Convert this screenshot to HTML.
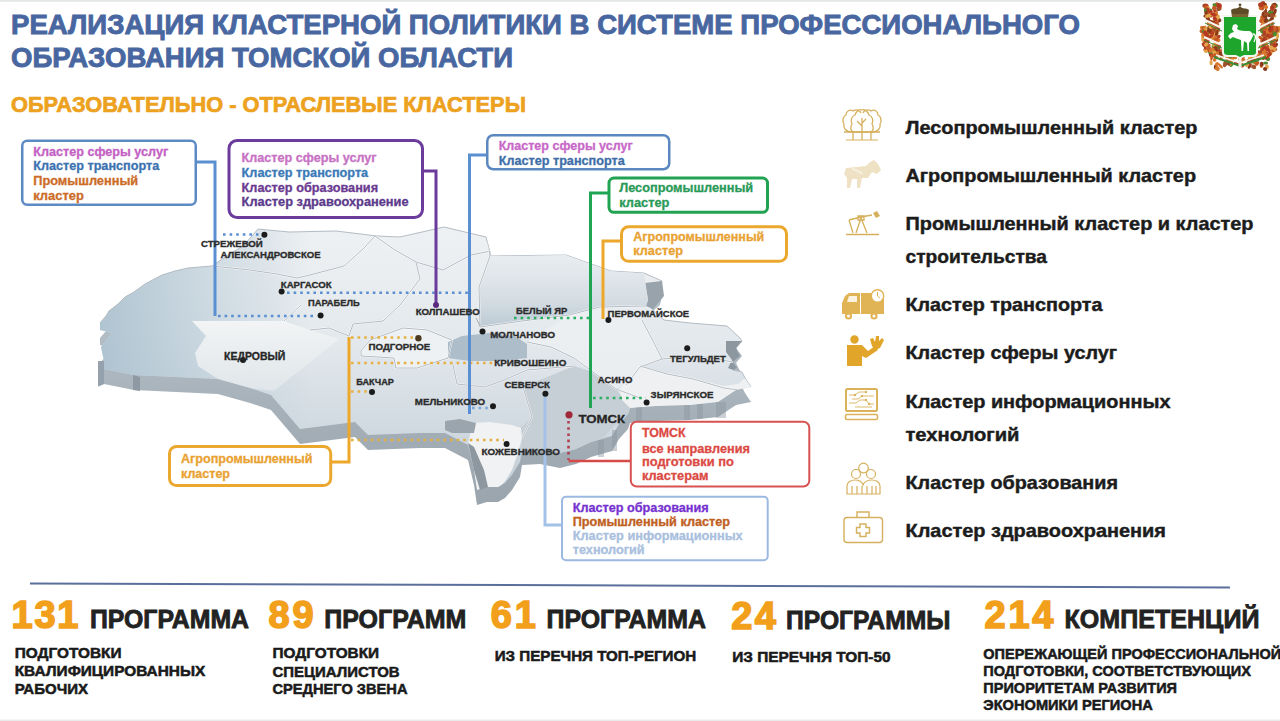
<!DOCTYPE html>
<html><head><meta charset="utf-8"><style>
html,body{margin:0;padding:0;background:#fff;width:1280px;height:721px;overflow:hidden}
svg{display:block;font-family:"Liberation Sans",sans-serif;font-weight:bold}
</style></head><body>
<svg width="1280" height="721" viewBox="0 0 1280 721">
<rect x="0" y="0" width="1280" height="721" fill="#ffffff"/>
<rect x="0" y="0" width="1280" height="1.8" fill="#e4e7e7"/>
<rect x="0" y="719.5" width="1280" height="1.5" fill="#e9ebeb"/>
<defs>
<linearGradient id="gTopV" gradientUnits="userSpaceOnUse" x1="0" y1="228" x2="0" y2="470"><stop offset="0" stop-color="#eef1f3"/><stop offset="0.45" stop-color="#e4e9ed"/><stop offset="0.8" stop-color="#d2dbe2"/><stop offset="1" stop-color="#c6d0d8"/></linearGradient>
<linearGradient id="gWest" gradientUnits="userSpaceOnUse" x1="95" y1="0" x2="310" y2="0"><stop offset="0" stop-color="#a4bccb" stop-opacity="0.85"/><stop offset="0.45" stop-color="#aac1cf" stop-opacity="0.5"/><stop offset="0.8" stop-color="#b4c8d4" stop-opacity="0.25"/><stop offset="1" stop-color="#b4c8d4" stop-opacity="0"/></linearGradient>
<linearGradient id="gSide" gradientUnits="userSpaceOnUse" x1="0" y1="330" x2="0" y2="520"><stop offset="0" stop-color="#b2bdc6"/><stop offset="0.5" stop-color="#a4aeb6"/><stop offset="1" stop-color="#99a3ab"/></linearGradient>
<linearGradient id="gKedr" gradientUnits="userSpaceOnUse" x1="0" y1="320" x2="0" y2="395"><stop offset="0" stop-color="#f2f4f5"/><stop offset="1" stop-color="#dfe5e9"/></linearGradient>
<clipPath id="cTop"><polygon points="100,323 106,316 109,311 118,304 125,297 134,292 145,284 162,275 175,271 188,268 212,266 228,255 243,246 252,236 258,229 289,232 336,231 377,236 400,237 444,227 486,237 491,256 566,255 611,271 644,273 662,281 660,290 648,300 651,308 664,320 690,323 727,326 740,338 742,341 736,348 740,356 733,362 737,368 733,370 742,372 745,378 751,387 736,390 718,402 690,405 657,406 630,408 628,414 619,424 612,436 591,442 576,449 560,453 540,449 522,450 520,462 512,475 505,483 498,487 487,487 477,490 474,470 468,445 445,433 420,433 368,435 355,422 300,429 271,395 250,388 218,379 134,375 104,369 98,372 104,361 101,347 112,333 100,330"/></clipPath>
</defs>
<polygon points="100,338 106,331 109,326 118,319 125,312 134,307 145,299 162,290 175,286 188,283 212,281 228,270 243,261 252,251 258,244 289,247 336,246 377,251 400,252 444,242 486,252 491,271 566,270 611,286 644,288 662,296 660,305 648,315 651,323 664,335 690,338 727,341 740,353 742,356 736,363 740,371 733,377 737,383 733,385 742,387 745,393 751,402 736,405 718,417 690,420 657,421 630,423 628,429 619,439 612,451 591,457 576,464 560,468 540,464 522,465 520,477 512,490 505,498 498,502 487,502 477,505 474,485 468,460 445,448 420,448 368,450 355,437 300,444 271,410 250,403 218,394 134,390 104,384 98,387 104,376 101,362 112,348 100,345" fill="url(#gSide)"/>
<polygon points="100,323 106,316 109,311 118,304 125,297 134,292 145,284 162,275 175,271 188,268 212,266 228,255 243,246 252,236 258,229 289,232 336,231 377,236 400,237 444,227 486,237 491,256 566,255 611,271 644,273 662,281 660,290 648,300 651,308 664,320 690,323 727,326 740,338 742,341 736,348 740,356 733,362 737,368 733,370 742,372 745,378 751,387 736,390 718,402 690,405 657,406 630,408 628,414 619,424 612,436 591,442 576,449 560,453 540,449 522,450 520,462 512,475 505,483 498,487 487,487 477,490 474,470 468,445 445,433 420,433 368,435 355,422 300,429 271,395 250,388 218,379 134,375 104,369 98,372 104,361 101,347 112,333 100,330" fill="url(#gTopV)"/>
<polygon points="100,323 106,316 109,311 118,304 125,297 134,292 145,284 162,275 175,271 188,268 212,266 228,255 243,246 252,236 258,229 289,232 336,231 377,236 400,237 444,227 486,237 491,256 566,255 611,271 644,273 662,281 660,290 648,300 651,308 664,320 690,323 727,326 740,338 742,341 736,348 740,356 733,362 737,368 733,370 742,372 745,378 751,387 736,390 718,402 690,405 657,406 630,408 628,414 619,424 612,436 591,442 576,449 560,453 540,449 522,450 520,462 512,475 505,483 498,487 487,487 477,490 474,470 468,445 445,433 420,433 368,435 355,422 300,429 271,395 250,388 218,379 134,375 104,369 98,372 104,361 101,347 112,333 100,330" fill="url(#gWest)"/>
<polyline points="100,323 106,316 109,311 118,304 125,297 134,292 145,284 162,275 175,271 188,268 212,266 228,255 243,246 252,236 258,229 289,232 336,231 377,236 400,237 444,227 486,237 491,256 566,255 611,271 644,273 662,281 660,290 648,300 651,308 664,320 690,323 727,326 740,338 742,341 736,348 740,356 733,362 737,368 733,370 742,372 745,378 751,387" fill="none" stroke="#b4bcc3" stroke-width="1"/>
<polygon points="133,375 140,377 140,391 133,390" fill="#8e99a3"/>
<polygon points="98,361 104,361 104,384 98,386" fill="#95a2ad"/>
<polygon points="645,283 662,281 664,296 653,309 646,306 648,300" fill="#98a3ac"/>
<polygon points="726,341 742,341 736,348 740,356 733,362 737,368 733,370 728,368 732,360 726,352" fill="#8d979f"/>
<rect x="636" y="407" width="6" height="16" fill="#8c979f" opacity="0.45"/>
<rect x="684" y="405" width="6" height="15" fill="#8c979f" opacity="0.45"/>
<rect x="697" y="404" width="6" height="15" fill="#8c979f" opacity="0.45"/>
<rect x="716" y="402" width="10" height="16" fill="#8c979f" opacity="0.45"/>
<rect x="598" y="440" width="6" height="17" fill="#8c979f" opacity="0.45"/>
<rect x="612" y="430" width="5" height="21" fill="#8c979f" opacity="0.45"/>
<g clip-path="url(#cTop)">
<linearGradient id="gBely" gradientUnits="userSpaceOnUse" x1="0" y1="256" x2="0" y2="327"><stop offset="0" stop-color="#e9edf0"/><stop offset="0.6" stop-color="#d6dee4"/><stop offset="1" stop-color="#bccad4"/></linearGradient>
<polygon points="491,256 566,255 611,271 644,273 648,300 646,306 600,307 569,315 522,321 480,327 479,287 490,256" fill="url(#gBely)"/>
<polygon points="527,342 551,347 574,358 593,372 616,389 622,385 640,366 662,359 653,341 642,320 600,307 569,315 527,342" fill="#edf0f2" opacity="0.8"/>
<polygon points="532,417 523,387 574,366 593,372 616,389 633,412 628,418 614,426 604,437 594,443 572,454 556,452 540,449 522,450 521,428" fill="#c6cfd6"/>
<polygon points="192,321 284,321 310,330 339,339 274,391 250,388 218,379 198,366 195,353 206,336" fill="url(#gKedr)"/>
<polygon points="361,351 370,340 403,328 427,330 452,340 448,358 417,368 396,368 394,358 361,356" fill="#eef1f3"/>
<polygon points="448,342 462,336 490,333 515,336 527,344 527,358 500,361 470,361 448,358" fill="#adbdca"/>
<polygon points="619,389 640,366 667,374 693,379 724,386 738,384 745,378 751,387 736,390 718,402 690,405 657,406 630,408 622,400" fill="#eef0f2"/>
<polygon points="473,423 490,422 512,425 521,428 522,438 518,453 512,470 506,480 500,487 487,487 477,490 473,463 468,443" fill="#f1f2f3"/>
</g>
<polygon points="445,421 460,419 476,423 474,433 452,433 445,430" fill="#9aa5ae"/>
<polygon points="468,443 474,447 484,470 488,487 480,490 474,470" fill="#8c979f"/>
<g clip-path="url(#cTop)">
<polyline points="212,266 250,270 277,274 297,278 310,275 344,266 364,248 375,236" fill="none" stroke="#ffffff" stroke-width="1.8" opacity="0.9"/>
<polyline points="212,266 250,270 277,274 297,278 310,275 344,266 364,248 375,236" fill="none" stroke="#a9b2ba" stroke-width="0.9"/>
<polyline points="375,236 395,250 416,262 443,270 471,255 491,251" fill="none" stroke="#ffffff" stroke-width="1.8" opacity="0.9"/>
<polyline points="375,236 395,250 416,262 443,270 471,255 491,251" fill="none" stroke="#a9b2ba" stroke-width="0.9"/>
<polyline points="416,262 420,279 400,305 383,321 353,324 349,336" fill="none" stroke="#ffffff" stroke-width="1.8" opacity="0.9"/>
<polyline points="416,262 420,279 400,305 383,321 353,324 349,336" fill="none" stroke="#a9b2ba" stroke-width="0.9"/>
<polyline points="301,305 284,321" fill="none" stroke="#ffffff" stroke-width="1.8" opacity="0.9"/>
<polyline points="301,305 284,321" fill="none" stroke="#a9b2ba" stroke-width="0.9"/>
<polyline points="488,240 490,256 479,287 480,327 476,318 481,326" fill="none" stroke="#ffffff" stroke-width="1.8" opacity="0.9"/>
<polyline points="488,240 490,256 479,287 480,327 476,318 481,326" fill="none" stroke="#a9b2ba" stroke-width="0.9"/>
<polyline points="480,327 522,321 569,315 600,307 646,306" fill="none" stroke="#ffffff" stroke-width="1.8" opacity="0.9"/>
<polyline points="480,327 522,321 569,315 600,307 646,306" fill="none" stroke="#a9b2ba" stroke-width="0.9"/>
<polyline points="527,342 551,347 574,358 593,372 616,389 640,398" fill="none" stroke="#ffffff" stroke-width="1.8" opacity="0.9"/>
<polyline points="527,342 551,347 574,358 593,372 616,389 640,398" fill="none" stroke="#a9b2ba" stroke-width="0.9"/>
<polyline points="642,320 653,341 662,359 640,367 626,385" fill="none" stroke="#ffffff" stroke-width="1.8" opacity="0.9"/>
<polyline points="642,320 653,341 662,359 640,367 626,385" fill="none" stroke="#a9b2ba" stroke-width="0.9"/>
<polyline points="453,365 457,384 485,387 504,380 527,370 574,366" fill="none" stroke="#ffffff" stroke-width="1.8" opacity="0.9"/>
<polyline points="453,365 457,384 485,387 504,380 527,370 574,366" fill="none" stroke="#a9b2ba" stroke-width="0.9"/>
<polyline points="523,387 532,417 522,438" fill="none" stroke="#ffffff" stroke-width="1.8" opacity="0.9"/>
<polyline points="523,387 532,417 522,438" fill="none" stroke="#a9b2ba" stroke-width="0.9"/>
<polyline points="361,351 370,340 403,328 427,330 452,340 448,358 417,368 396,368 394,358 361,356 361,351" fill="none" stroke="#ffffff" stroke-width="1.8" opacity="0.9"/>
<polyline points="361,351 370,340 403,328 427,330 452,340 448,358 417,368 396,368 394,358 361,356 361,351" fill="none" stroke="#a9b2ba" stroke-width="0.9"/>
<polyline points="310,330 329,328 349,336" fill="none" stroke="#ffffff" stroke-width="1.8" opacity="0.9"/>
<polyline points="310,330 329,328 349,336" fill="none" stroke="#a9b2ba" stroke-width="0.9"/>
<polyline points="640,366 667,374 693,379 724,388 738,390" fill="none" stroke="#ffffff" stroke-width="1.8" opacity="0.9"/>
<polyline points="640,366 667,374 693,379 724,388 738,390" fill="none" stroke="#a9b2ba" stroke-width="0.9"/>
<polyline points="662,359 700,356 733,362" fill="none" stroke="#ffffff" stroke-width="1.8" opacity="0.9"/>
<polyline points="662,359 700,356 733,362" fill="none" stroke="#a9b2ba" stroke-width="0.9"/>
</g><line x1="223" y1="234.5" x2="262" y2="234.5" stroke="#5a8fd2" stroke-width="2.6" stroke-dasharray="2.6 3.9999999999999996"/>
<line x1="287" y1="292.7" x2="468" y2="292.7" stroke="#5a8fd2" stroke-width="2.6" stroke-dasharray="2.6 3.9999999999999996"/>
<line x1="218" y1="316" x2="314" y2="316" stroke="#5a8fd2" stroke-width="2.6" stroke-dasharray="2.6 3.9999999999999996"/>
<line x1="472" y1="408" x2="490" y2="408" stroke="#7aa6dc" stroke-width="2.6" stroke-dasharray="2.6 3.9999999999999996"/>
<line x1="514" y1="318" x2="590" y2="318" stroke="#2ab060" stroke-width="2.6" stroke-dasharray="2.6 3.9999999999999996"/>
<line x1="593" y1="398" x2="646" y2="398" stroke="#2ab060" stroke-width="2.6" stroke-dasharray="2.6 3.9999999999999996"/>
<line x1="351" y1="337.5" x2="416" y2="337.5" stroke="#e8b040" stroke-width="2.6" stroke-dasharray="2.6 3.9999999999999996"/>
<line x1="351" y1="363" x2="493" y2="363" stroke="#e8b040" stroke-width="2.6" stroke-dasharray="2.6 3.9999999999999996"/>
<line x1="351" y1="391.5" x2="370" y2="391.5" stroke="#e8b040" stroke-width="2.6" stroke-dasharray="2.6 3.9999999999999996"/>
<line x1="351" y1="440" x2="504" y2="440" stroke="#e0b040" stroke-width="2.6" stroke-dasharray="2.6 3.9999999999999996"/>
<line x1="568.5" y1="421" x2="568.5" y2="460" stroke="#b04050" stroke-width="2.6" stroke-dasharray="2.6 3.6"/>
<polyline points="197,162 215,162 215,316" fill="none" stroke="#5a8fd2" stroke-width="3" stroke-linejoin="miter"/>
<polyline points="424,171 436,171 436,305" fill="none" stroke="#6a3a9c" stroke-width="3" stroke-linejoin="miter"/>
<polyline points="486,155 469.5,155 469.5,414" fill="none" stroke="#5a8fd2" stroke-width="3" stroke-linejoin="miter"/>
<polyline points="608,193 590.5,193 590.5,408" fill="none" stroke="#1fa554" stroke-width="3" stroke-linejoin="miter"/>
<polyline points="620,241 603,241 603,319" fill="none" stroke="#eda72a" stroke-width="3" stroke-linejoin="miter"/>
<polyline points="332,462 349,462 349,337" fill="none" stroke="#eda72a" stroke-width="3" stroke-linejoin="miter"/>
<polyline points="630,461 568.5,461" fill="none" stroke="#d64a4a" stroke-width="2.5" stroke-linejoin="miter"/>
<polyline points="561,525 545,525 545,394" fill="none" stroke="#a4c2e8" stroke-width="3" stroke-linejoin="miter"/>
<circle cx="264.4" cy="234.8" r="3" fill="#1b1b1b"/>
<circle cx="281.6" cy="291.5" r="3" fill="#1b1b1b"/>
<circle cx="320.6" cy="315.6" r="3" fill="#1b1b1b"/>
<circle cx="482.5" cy="331.5" r="3" fill="#1b1b1b"/>
<circle cx="608.4" cy="320" r="3" fill="#1b1b1b"/>
<circle cx="687.2" cy="348.3" r="3" fill="#1b1b1b"/>
<circle cx="646.6" cy="402.6" r="3" fill="#1b1b1b"/>
<circle cx="545.4" cy="393.8" r="3" fill="#1b1b1b"/>
<circle cx="493" cy="406.3" r="3" fill="#1b1b1b"/>
<circle cx="243" cy="360" r="3" fill="#1b1b1b"/>
<circle cx="506.6" cy="444" r="3" fill="#1b1b1b"/>
<circle cx="372" cy="391.9" r="3" fill="#1b1b1b"/>
<circle cx="418.4" cy="338.3" r="3.2" fill="#4a3a20"/>
<circle cx="436" cy="305" r="3" fill="#5a2a80"/>
<circle cx="569" cy="414.8" r="3.6" fill="#a02838"/>
<circle cx="195" cy="162" r="2.2" fill="#5a8fd2"/>
<circle cx="421" cy="171" r="2.2" fill="#6a3a9c"/>
<rect x="22.25" y="140.75" width="173.5" height="64.0" rx="5" fill="#ffffff" stroke="#5b8ac4" stroke-width="2.5"/>
<text x="33.2" y="155.8" font-size="12.5" textLength="135" lengthAdjust="spacingAndGlyphs" fill="#c462c4" stroke="#c462c4" stroke-width="0.3">Кластер сферы услуг</text>
<text x="33.2" y="170.4" font-size="12.5" textLength="126" lengthAdjust="spacingAndGlyphs" fill="#3c72b0" stroke="#3c72b0" stroke-width="0.3">Кластер транспорта</text>
<text x="33.2" y="184.7" font-size="12.5" textLength="105" lengthAdjust="spacingAndGlyphs" fill="#cc6c28" stroke="#cc6c28" stroke-width="0.3">Промышленный</text>
<text x="33.2" y="199.6" font-size="12.5" textLength="50.7" lengthAdjust="spacingAndGlyphs" fill="#cc6c28" stroke="#cc6c28" stroke-width="0.3">кластер</text>
<rect x="229.0" y="140.5" width="193.5" height="77" rx="8" fill="#ffffff" stroke="#6b3c9c" stroke-width="3"/>
<text x="241.6" y="162.3" font-size="12.5" textLength="135" lengthAdjust="spacingAndGlyphs" fill="#c872c4" stroke="#c872c4" stroke-width="0.3">Кластер сферы услуг</text>
<text x="241.6" y="176.7" font-size="12.5" textLength="126.6" lengthAdjust="spacingAndGlyphs" fill="#3a7ab8" stroke="#3a7ab8" stroke-width="0.3">Кластер транспорта</text>
<text x="241.6" y="192" font-size="12.5" textLength="136.5" lengthAdjust="spacingAndGlyphs" fill="#6a3a90" stroke="#6a3a90" stroke-width="0.3">Кластер образования</text>
<text x="241.6" y="205.5" font-size="12.5" textLength="167" lengthAdjust="spacingAndGlyphs" fill="#5c3a8c" stroke="#5c3a8c" stroke-width="0.3">Кластер здравоохранение</text>
<rect x="487.25" y="135.25" width="182.0" height="34.0" rx="6" fill="#ffffff" stroke="#5b88c0" stroke-width="2.5"/>
<text x="498.7" y="150" font-size="12.5" textLength="134" lengthAdjust="spacingAndGlyphs" fill="#c868c8" stroke="#c868c8" stroke-width="0.3">Кластер сферы услуг</text>
<text x="498.7" y="164.5" font-size="12.5" textLength="126" lengthAdjust="spacingAndGlyphs" fill="#3e6ea8" stroke="#3e6ea8" stroke-width="0.3">Кластер транспорта</text>
<rect x="609.0" y="178.0" width="158.5" height="34.30000000000001" rx="5" fill="#ffffff" stroke="#21a352" stroke-width="3"/>
<text x="619.2" y="192.3" font-size="12.5" textLength="134" lengthAdjust="spacingAndGlyphs" fill="#2a9a58" stroke="#2a9a58" stroke-width="0.3">Лесопромышленный</text>
<text x="619.2" y="207" font-size="12.5" textLength="50.2" lengthAdjust="spacingAndGlyphs" fill="#2a9a58" stroke="#2a9a58" stroke-width="0.3">кластер</text>
<rect x="621.5" y="226.8" width="165" height="34.5" rx="7" fill="#ffffff" stroke="#eba82e" stroke-width="3"/>
<text x="633.3" y="240.8" font-size="12.5" textLength="131" lengthAdjust="spacingAndGlyphs" fill="#e9a232" stroke="#e9a232" stroke-width="0.3">Агропромышленный</text>
<text x="633.3" y="255" font-size="12.5" textLength="49.7" lengthAdjust="spacingAndGlyphs" fill="#e9a232" stroke="#e9a232" stroke-width="0.3">кластер</text>
<rect x="169.5" y="446.5" width="161.2" height="39" rx="7" fill="#ffffff" stroke="#eba82e" stroke-width="3"/>
<text x="181" y="463" font-size="12.5" textLength="131.4" lengthAdjust="spacingAndGlyphs" fill="#e9a232" stroke="#e9a232" stroke-width="0.3">Агропромышленный</text>
<text x="181" y="478.4" font-size="12.5" textLength="49" lengthAdjust="spacingAndGlyphs" fill="#e9a232" stroke="#e9a232" stroke-width="0.3">кластер</text>
<rect x="630.8" y="421.8" width="178.5" height="64.69999999999999" rx="6" fill="#ffffff" stroke="#d85252" stroke-width="2"/>
<text x="641.9" y="437.2" font-size="12.5" textLength="43.7" lengthAdjust="spacingAndGlyphs" fill="#dc4a44" stroke="#dc4a44" stroke-width="0.3">ТОМСК</text>
<text x="641.9" y="452.5" font-size="12.5" textLength="108" lengthAdjust="spacingAndGlyphs" fill="#dc4a44" stroke="#dc4a44" stroke-width="0.3">все направления</text>
<text x="641.9" y="466" font-size="12.5" textLength="92" lengthAdjust="spacingAndGlyphs" fill="#dc4a44" stroke="#dc4a44" stroke-width="0.3">подготовки по</text>
<text x="641.9" y="480" font-size="12.5" textLength="66.7" lengthAdjust="spacingAndGlyphs" fill="#dc4a44" stroke="#dc4a44" stroke-width="0.3">кластерам</text>
<rect x="562.0" y="496.8" width="205.70000000000005" height="63.49999999999994" rx="4" fill="#ffffff" stroke="#9cb9e2" stroke-width="2"/>
<text x="572.7" y="511.5" font-size="12.5" textLength="136" lengthAdjust="spacingAndGlyphs" fill="#7632d0" stroke="#7632d0" stroke-width="0.3">Кластер образования</text>
<text x="572.7" y="525.7" font-size="12.5" textLength="157.4" lengthAdjust="spacingAndGlyphs" fill="#c0601e" stroke="#c0601e" stroke-width="0.3">Промышленный кластер</text>
<text x="572.7" y="540" font-size="12.5" textLength="170" lengthAdjust="spacingAndGlyphs" fill="#a9c0de" stroke="#a9c0de" stroke-width="0.3">Кластер информационных</text>
<text x="572.7" y="554" font-size="12.5" textLength="72" lengthAdjust="spacingAndGlyphs" fill="#a9c0de" stroke="#a9c0de" stroke-width="0.3">технологий</text>
<text x="201" y="247.3" font-size="8.6" textLength="61.8" lengthAdjust="spacingAndGlyphs" fill="#2b2b2b" stroke="#2b2b2b" stroke-width="0.3">СТРЕЖЕВОЙ</text>
<text x="220.6" y="257.5" font-size="8.6" textLength="100.0" lengthAdjust="spacingAndGlyphs" fill="#2b2b2b" stroke="#2b2b2b" stroke-width="0.3">АЛЕКСАНДРОВСКОЕ</text>
<text x="280.8" y="288" font-size="8.6" textLength="50.8" lengthAdjust="spacingAndGlyphs" fill="#2b2b2b" stroke="#2b2b2b" stroke-width="0.3">КАРГАСОК</text>
<text x="308" y="306" font-size="8.6" textLength="51.7" lengthAdjust="spacingAndGlyphs" fill="#2b2b2b" stroke="#2b2b2b" stroke-width="0.3">ПАРАБЕЛЬ</text>
<text x="415.7" y="314.9" font-size="8.6" textLength="64.1" lengthAdjust="spacingAndGlyphs" fill="#2b2b2b" stroke="#2b2b2b" stroke-width="0.3">КОЛПАШЕВО</text>
<text x="490.3" y="338" font-size="8.6" textLength="64.7" lengthAdjust="spacingAndGlyphs" fill="#2b2b2b" stroke="#2b2b2b" stroke-width="0.3">МОЛЧАНОВО</text>
<text x="516" y="314.2" font-size="8.6" textLength="51.3" lengthAdjust="spacingAndGlyphs" fill="#2b2b2b" stroke="#2b2b2b" stroke-width="0.3">БЕЛЫЙ ЯР</text>
<text x="607.6" y="317.3" font-size="8.6" textLength="81.6" lengthAdjust="spacingAndGlyphs" fill="#2b2b2b" stroke="#2b2b2b" stroke-width="0.3">ПЕРВОМАЙСКОЕ</text>
<text x="670" y="362" font-size="8.6" textLength="55.8" lengthAdjust="spacingAndGlyphs" fill="#2b2b2b" stroke="#2b2b2b" stroke-width="0.3">ТЕГУЛЬДЕТ</text>
<text x="597.8" y="383.3" font-size="8.6" textLength="34.5" lengthAdjust="spacingAndGlyphs" fill="#2b2b2b" stroke="#2b2b2b" stroke-width="0.3">АСИНО</text>
<text x="650.6" y="397.5" font-size="8.6" textLength="63.0" lengthAdjust="spacingAndGlyphs" fill="#2b2b2b" stroke="#2b2b2b" stroke-width="0.3">ЗЫРЯНСКОЕ</text>
<text x="504.4" y="387.7" font-size="8.6" textLength="45.6" lengthAdjust="spacingAndGlyphs" fill="#2b2b2b" stroke="#2b2b2b" stroke-width="0.3">СЕВЕРСК</text>
<text x="494.2" y="366.3" font-size="8.6" textLength="72.1" lengthAdjust="spacingAndGlyphs" fill="#2b2b2b" stroke="#2b2b2b" stroke-width="0.3">КРИВОШЕИНО</text>
<text x="368.5" y="350" font-size="8.6" textLength="61.7" lengthAdjust="spacingAndGlyphs" fill="#2b2b2b" stroke="#2b2b2b" stroke-width="0.3">ПОДГОРНОЕ</text>
<text x="356.2" y="385" font-size="8.6" textLength="37.8" lengthAdjust="spacingAndGlyphs" fill="#2b2b2b" stroke="#2b2b2b" stroke-width="0.3">БАКЧАР</text>
<text x="414.8" y="405" font-size="8.6" textLength="70.4" lengthAdjust="spacingAndGlyphs" fill="#2b2b2b" stroke="#2b2b2b" stroke-width="0.3">МЕЛЬНИКОВО</text>
<text x="481.6" y="455" font-size="8.6" textLength="78.4" lengthAdjust="spacingAndGlyphs" fill="#2b2b2b" stroke="#2b2b2b" stroke-width="0.3">КОЖЕВНИКОВО</text>
<text x="224" y="359.8" font-size="10.6" textLength="61.3" lengthAdjust="spacingAndGlyphs" fill="#262626" stroke="#262626" stroke-width="0.3">КЕДРОВЫЙ</text>
<text x="578.5" y="422.5" font-size="10.8" textLength="46.7" lengthAdjust="spacingAndGlyphs" fill="#262626" stroke="#262626" stroke-width="0.3">ТОМСК</text>
<g fill="none" stroke="#d5b05c" stroke-width="1.3" stroke-linejoin="round"><path d="M852,132 C846,132 843,128 844,124 C842,121 843,116 846,115 C846,111 850,109 853,111 C856,109 860,110 861,113"/><path d="M872,132 C878,132 881,128 880,124 C882,121 881,116 878,115 C878,111 874,109 871,111 C868,109 864,110 863,113"/><path d="M854,132 C850,131 850,127 852,124 C850,120 852,116 855,115 C856,111 860,109 862,110 C864,109 868,111 869,115 C872,116 874,120 872,124 C874,127 874,131 870,132 Z"/><path d="M844,132 L880,132"/><path d="M853,132 L853,140 M862,118 L862,140 M871,132 L871,140 M862,126 L857,121 M862,123 L866,119"/><path d="M846,140 L878,140" stroke-width="1"/></g><g fill="#efe2c4"><path d="M846,168 L866,166 L870,162 L874,160 L878,164 L881,170 L877,174 L872,172 L868,178 L862,178 L860,188 L857,188 L857,179 L852,179 L850,188 L847,188 L847,178 L844,174 Z"/></g><path d="M852,168 C856,172 860,170 862,174" stroke="#f6efe0" stroke-width="2" fill="none"/><g fill="none" stroke="#d5b05c" stroke-width="1.3"><path d="M846,234.5 L879,234.5" stroke-width="1.6"/><path d="M849,220 L861,217 L872,215 M849,220 L853,233 M861,218 L856,233 M861,218 L867,233 M858,216 L864,216 L864,220 L858,220 Z"/></g><path d="M873,213 L877,211 L880,216 L876,218 Z" fill="#d5b05c"/><g fill="#e0b354"><path d="M842,303 L845,296 L849,293 L860,293 L860,314 L842,314 Z"/><rect x="861" y="293" width="23" height="21"/><circle cx="848.5" cy="316" r="3.6"/><circle cx="874" cy="316" r="3.6"/></g><path d="M847,302 L849,296 L857,296 L857,302 Z" fill="#fbf3e0"/><circle cx="848.5" cy="316" r="1.5" fill="#fff"/><circle cx="874" cy="316" r="1.5" fill="#fff"/><circle cx="877.5" cy="296" r="6.2" fill="#fff" stroke="#e0b354" stroke-width="1.4"/><path d="M877.5,292 L877.5,296 L880,298" stroke="#e0b354" stroke-width="1" fill="none"/><g fill="#e1a52a"><circle cx="854.5" cy="339.5" r="4.2"/><path d="M847,345 L862,345 L868,351 L875,346 L878,350 L866,358 L862,356 L862,366 L847,366 Z"/><path d="M872,346 L870,339 L873,338 L875,342 L876,336 L879,336 L879,341 L882,338 L884,340 L880,348 L875,350 Z"/></g><g fill="none" stroke="#d9b25a"><rect x="846" y="389" width="31" height="22" rx="1.5" stroke-width="2"/><rect x="845.5" y="414.5" width="32" height="5" rx="1.5" stroke-width="1.6"/><path d="M849,395 L855,395 L859,392 L866,392 M852,399 L858,399 L862,396 L874,396 M849,403 L856,403 L860,400 L866,400 L869,404 L874,404 M855,407 L872,407" stroke-width="0.9"/></g><g fill="#d9b25a"><circle cx="855" cy="395" r="1.2"/><circle cx="862" cy="396" r="1.2"/><circle cx="866" cy="400" r="1.2"/><circle cx="869" cy="404" r="1.2"/><circle cx="866" cy="392" r="1.2"/></g><g fill="none" stroke="#d5b05c" stroke-width="1.2"><circle cx="856" cy="474" r="4.5"/><circle cx="871" cy="474" r="4.5"/><circle cx="863.5" cy="468" r="4.8"/><path d="M847,494 L847,486 C847,482 851,480 855,480 C859,480 862,482 863,485 C864,482 868,480 872,480 C876,480 880,482 880,486 L880,494 Z"/><path d="M852,486 L852,494 M857,486 L857,494 M862,486 L862,494 M867,486 L867,494 M872,486 L872,494 M876,486 L876,494"/></g><g fill="none" stroke="#d5b05c" stroke-width="1.4"><rect x="844" y="517.5" width="38.5" height="25" rx="3"/><path d="M857,517.5 L857,512 L869,512 L869,517.5"/><path d="M860,524 L866,524 L866,527.5 L869.5,527.5 L869.5,533 L866,533 L866,536.5 L860,536.5 L860,533 L856.5,533 L856.5,527.5 L860,527.5 Z"/></g><ellipse cx="1211.2" cy="27.5" rx="2.7" ry="1.9" transform="rotate(106 1211.2 27.5)" fill="#a0522a"/><ellipse cx="1268.2" cy="27.6" rx="2.7" ry="1.9" transform="rotate(74 1268.2 27.6)" fill="#e3a54a"/><ellipse cx="1205.1" cy="45.2" rx="2.1" ry="2.2" transform="rotate(125 1205.1 45.2)" fill="#b43a22"/><ellipse cx="1273.9" cy="46.7" rx="2.1" ry="2.2" transform="rotate(55 1273.9 46.7)" fill="#a0522a"/><ellipse cx="1212.4" cy="38.0" rx="2.0" ry="1.9" transform="rotate(11 1212.4 38.0)" fill="#b43a22"/><ellipse cx="1267.0" cy="37.2" rx="2.0" ry="1.9" transform="rotate(169 1267.0 37.2)" fill="#8a3a1a"/><ellipse cx="1209.3" cy="28.1" rx="2.8" ry="2.0" transform="rotate(90 1209.3 28.1)" fill="#c55a26"/><ellipse cx="1271.0" cy="28.0" rx="2.8" ry="2.0" transform="rotate(90 1271.0 28.0)" fill="#b43a22"/><ellipse cx="1220.9" cy="55.9" rx="3.1" ry="1.7" transform="rotate(41 1220.9 55.9)" fill="#c55a26"/><ellipse cx="1258.7" cy="54.6" rx="3.1" ry="1.7" transform="rotate(139 1258.7 54.6)" fill="#c55a26"/><ellipse cx="1215.8" cy="24.8" rx="3.5" ry="2.2" transform="rotate(0 1215.8 24.8)" fill="#d8782e"/><ellipse cx="1263.7" cy="26.1" rx="3.5" ry="2.2" transform="rotate(180 1263.7 26.1)" fill="#d8782e"/><ellipse cx="1211.5" cy="55.0" rx="3.0" ry="2.2" transform="rotate(49 1211.5 55.0)" fill="#8a3a1a"/><ellipse cx="1267.7" cy="54.5" rx="3.0" ry="2.2" transform="rotate(131 1267.7 54.5)" fill="#a0522a"/><ellipse cx="1205.3" cy="43.4" rx="2.2" ry="1.5" transform="rotate(143 1205.3 43.4)" fill="#b43a22"/><ellipse cx="1274.1" cy="43.6" rx="2.2" ry="1.5" transform="rotate(37 1274.1 43.6)" fill="#d8782e"/><ellipse cx="1215.2" cy="13.9" rx="3.0" ry="1.5" transform="rotate(76 1215.2 13.9)" fill="#8a3a1a"/><ellipse cx="1264.3" cy="13.2" rx="3.0" ry="1.5" transform="rotate(104 1264.3 13.2)" fill="#a0522a"/><ellipse cx="1208.5" cy="45.8" rx="2.3" ry="1.8" transform="rotate(154 1208.5 45.8)" fill="#c55a26"/><ellipse cx="1271.8" cy="44.6" rx="2.3" ry="1.8" transform="rotate(26 1271.8 44.6)" fill="#a0522a"/><ellipse cx="1207.6" cy="15.1" rx="2.5" ry="1.7" transform="rotate(13 1207.6 15.1)" fill="#c55a26"/><ellipse cx="1271.5" cy="15.3" rx="2.5" ry="1.7" transform="rotate(167 1271.5 15.3)" fill="#b43a22"/><ellipse cx="1208.4" cy="35.3" rx="3.5" ry="1.9" transform="rotate(103 1208.4 35.3)" fill="#d8782e"/><ellipse cx="1272.3" cy="34.3" rx="3.5" ry="1.9" transform="rotate(77 1272.3 34.3)" fill="#8a3a1a"/><ellipse cx="1217.3" cy="51.2" rx="2.3" ry="2.1" transform="rotate(169 1217.3 51.2)" fill="#b43a22"/><ellipse cx="1262.1" cy="52.6" rx="2.3" ry="2.1" transform="rotate(11 1262.1 52.6)" fill="#c55a26"/><ellipse cx="1209.2" cy="35.4" rx="2.1" ry="2.4" transform="rotate(43 1209.2 35.4)" fill="#8a3a1a"/><ellipse cx="1271.2" cy="34.7" rx="2.1" ry="2.4" transform="rotate(137 1271.2 34.7)" fill="#c55a26"/><ellipse cx="1207.2" cy="35.0" rx="3.2" ry="1.5" transform="rotate(41 1207.2 35.0)" fill="#b43a22"/><ellipse cx="1272.9" cy="36.1" rx="3.2" ry="1.5" transform="rotate(139 1272.9 36.1)" fill="#e3a54a"/><ellipse cx="1217.4" cy="18.6" rx="2.0" ry="1.7" transform="rotate(80 1217.4 18.6)" fill="#b43a22"/><ellipse cx="1261.7" cy="17.6" rx="2.0" ry="1.7" transform="rotate(100 1261.7 17.6)" fill="#d8782e"/><ellipse cx="1204.6" cy="33.8" rx="3.4" ry="2.4" transform="rotate(118 1204.6 33.8)" fill="#d8782e"/><ellipse cx="1275.8" cy="34.0" rx="3.4" ry="2.4" transform="rotate(62 1275.8 34.0)" fill="#8a3a1a"/><ellipse cx="1205.4" cy="5.8" rx="3.1" ry="2.4" transform="rotate(4 1205.4 5.8)" fill="#a0522a"/><ellipse cx="1274.8" cy="5.8" rx="3.1" ry="2.4" transform="rotate(176 1274.8 5.8)" fill="#4f8a30"/><ellipse cx="1218.5" cy="20.6" rx="2.9" ry="2.1" transform="rotate(162 1218.5 20.6)" fill="#8a3a1a"/><ellipse cx="1262.0" cy="21.2" rx="2.9" ry="2.1" transform="rotate(18 1262.0 21.2)" fill="#c55a26"/><ellipse cx="1210.2" cy="51.6" rx="3.4" ry="2.3" transform="rotate(75 1210.2 51.6)" fill="#4f8a30"/><ellipse cx="1270.4" cy="52.7" rx="3.4" ry="2.3" transform="rotate(105 1270.4 52.7)" fill="#e3a54a"/><ellipse cx="1208.7" cy="36.5" rx="3.0" ry="1.5" transform="rotate(115 1208.7 36.5)" fill="#e3a54a"/><ellipse cx="1272.3" cy="37.6" rx="3.0" ry="1.5" transform="rotate(65 1272.3 37.6)" fill="#4f8a30"/><ellipse cx="1214.1" cy="24.2" rx="2.7" ry="2.2" transform="rotate(15 1214.1 24.2)" fill="#e3a54a"/><ellipse cx="1266.4" cy="22.8" rx="2.7" ry="2.2" transform="rotate(165 1266.4 22.8)" fill="#e3a54a"/><ellipse cx="1206.1" cy="29.0" rx="2.8" ry="2.0" transform="rotate(166 1206.1 29.0)" fill="#4f8a30"/><ellipse cx="1273.4" cy="27.5" rx="2.8" ry="2.0" transform="rotate(14 1273.4 27.5)" fill="#b43a22"/><ellipse cx="1206.1" cy="39.3" rx="3.4" ry="2.1" transform="rotate(80 1206.1 39.3)" fill="#b43a22"/><ellipse cx="1274.7" cy="38.7" rx="3.4" ry="2.1" transform="rotate(100 1274.7 38.7)" fill="#e3a54a"/><ellipse cx="1210.4" cy="14.3" rx="3.5" ry="2.3" transform="rotate(69 1210.4 14.3)" fill="#c55a26"/><ellipse cx="1269.7" cy="13.8" rx="3.5" ry="2.3" transform="rotate(111 1269.7 13.8)" fill="#8a3a1a"/><ellipse cx="1215.5" cy="29.8" rx="3.1" ry="2.4" transform="rotate(50 1215.5 29.8)" fill="#c55a26"/><ellipse cx="1263.9" cy="29.7" rx="3.1" ry="2.4" transform="rotate(130 1263.9 29.7)" fill="#b43a22"/><ellipse cx="1210.0" cy="15.1" rx="2.8" ry="1.7" transform="rotate(151 1210.0 15.1)" fill="#e3a54a"/><ellipse cx="1270.9" cy="15.0" rx="2.8" ry="1.7" transform="rotate(29 1270.9 15.0)" fill="#8a3a1a"/><ellipse cx="1218.7" cy="5.6" rx="3.1" ry="2.0" transform="rotate(56 1218.7 5.6)" fill="#8a3a1a"/><ellipse cx="1261.9" cy="4.2" rx="3.1" ry="2.0" transform="rotate(124 1261.9 4.2)" fill="#8a3a1a"/><ellipse cx="1202.9" cy="27.7" rx="2.4" ry="1.5" transform="rotate(8 1202.9 27.7)" fill="#c55a26"/><ellipse cx="1277.3" cy="27.5" rx="2.4" ry="1.5" transform="rotate(172 1277.3 27.5)" fill="#e3a54a"/><ellipse cx="1215.4" cy="38.1" rx="3.1" ry="1.6" transform="rotate(86 1215.4 38.1)" fill="#a0522a"/><ellipse cx="1264.0" cy="36.6" rx="3.1" ry="1.6" transform="rotate(94 1264.0 36.6)" fill="#d8782e"/><ellipse cx="1205.9" cy="41.1" rx="2.6" ry="2.1" transform="rotate(94 1205.9 41.1)" fill="#b43a22"/><ellipse cx="1274.3" cy="41.9" rx="2.6" ry="2.1" transform="rotate(86 1274.3 41.9)" fill="#d8782e"/><ellipse cx="1217.7" cy="45.2" rx="3.5" ry="2.1" transform="rotate(23 1217.7 45.2)" fill="#8a3a1a"/><ellipse cx="1262.2" cy="45.6" rx="3.5" ry="2.1" transform="rotate(157 1262.2 45.6)" fill="#a0522a"/><ellipse cx="1211.5" cy="23.6" rx="3.3" ry="2.3" transform="rotate(83 1211.5 23.6)" fill="#c55a26"/><ellipse cx="1268.8" cy="22.7" rx="3.3" ry="2.3" transform="rotate(97 1268.8 22.7)" fill="#4f8a30"/><ellipse cx="1213.8" cy="46.6" rx="2.3" ry="2.3" transform="rotate(176 1213.8 46.6)" fill="#4f8a30"/><ellipse cx="1267.1" cy="46.7" rx="2.3" ry="2.3" transform="rotate(4 1267.1 46.7)" fill="#c55a26"/><ellipse cx="1217.1" cy="20.7" rx="2.6" ry="1.5" transform="rotate(79 1217.1 20.7)" fill="#c55a26"/><ellipse cx="1263.0" cy="21.5" rx="2.6" ry="1.5" transform="rotate(101 1263.0 21.5)" fill="#d8782e"/><ellipse cx="1217.8" cy="5.5" rx="3.3" ry="1.6" transform="rotate(60 1217.8 5.5)" fill="#8a3a1a"/><ellipse cx="1262.8" cy="4.4" rx="3.3" ry="1.6" transform="rotate(120 1262.8 4.4)" fill="#8a3a1a"/><ellipse cx="1213.7" cy="30.9" rx="3.1" ry="2.3" transform="rotate(89 1213.7 30.9)" fill="#c55a26"/><ellipse cx="1267.2" cy="29.6" rx="3.1" ry="2.3" transform="rotate(91 1267.2 29.6)" fill="#b43a22"/><ellipse cx="1207.0" cy="31.4" rx="3.0" ry="1.9" transform="rotate(152 1207.0 31.4)" fill="#4f8a30"/><ellipse cx="1273.1" cy="30.8" rx="3.0" ry="1.9" transform="rotate(28 1273.1 30.8)" fill="#d8782e"/><ellipse cx="1218.1" cy="48.0" rx="3.4" ry="2.4" transform="rotate(94 1218.1 48.0)" fill="#b43a22"/><ellipse cx="1262.1" cy="47.1" rx="3.4" ry="2.4" transform="rotate(86 1262.1 47.1)" fill="#e3a54a"/><ellipse cx="1211.9" cy="30.2" rx="3.6" ry="1.9" transform="rotate(72 1211.9 30.2)" fill="#8a3a1a"/><ellipse cx="1268.7" cy="30.4" rx="3.6" ry="1.9" transform="rotate(108 1268.7 30.4)" fill="#d8782e"/><ellipse cx="1204.0" cy="39.9" rx="2.7" ry="2.4" transform="rotate(166 1204.0 39.9)" fill="#e3a54a"/><ellipse cx="1275.5" cy="39.9" rx="2.7" ry="2.4" transform="rotate(14 1275.5 39.9)" fill="#8a3a1a"/><ellipse cx="1215.2" cy="26.6" rx="2.8" ry="1.7" transform="rotate(34 1215.2 26.6)" fill="#a0522a"/><ellipse cx="1265.0" cy="27.8" rx="2.8" ry="1.7" transform="rotate(146 1265.0 27.8)" fill="#8a3a1a"/><ellipse cx="1203.9" cy="44.5" rx="2.4" ry="2.1" transform="rotate(58 1203.9 44.5)" fill="#b43a22"/><ellipse cx="1275.8" cy="44.9" rx="2.4" ry="2.1" transform="rotate(122 1275.8 44.9)" fill="#8a3a1a"/><ellipse cx="1205.2" cy="42.0" rx="2.4" ry="1.6" transform="rotate(95 1205.2 42.0)" fill="#d8782e"/><ellipse cx="1274.7" cy="41.6" rx="2.4" ry="1.6" transform="rotate(85 1274.7 41.6)" fill="#d8782e"/><ellipse cx="1205.0" cy="31.5" rx="3.0" ry="2.0" transform="rotate(95 1205.0 31.5)" fill="#b43a22"/><ellipse cx="1275.7" cy="31.9" rx="3.0" ry="2.0" transform="rotate(85 1275.7 31.9)" fill="#c55a26"/><ellipse cx="1215.0" cy="16.1" rx="3.4" ry="1.7" transform="rotate(57 1215.0 16.1)" fill="#c55a26"/><ellipse cx="1265.9" cy="15.3" rx="3.4" ry="1.7" transform="rotate(123 1265.9 15.3)" fill="#a0522a"/><ellipse cx="1206.5" cy="50.2" rx="3.2" ry="1.7" transform="rotate(17 1206.5 50.2)" fill="#b43a22"/><ellipse cx="1274.1" cy="49.9" rx="3.2" ry="1.7" transform="rotate(163 1274.1 49.9)" fill="#c55a26"/><ellipse cx="1210.6" cy="10.6" rx="2.0" ry="1.6" transform="rotate(123 1210.6 10.6)" fill="#4f8a30"/><ellipse cx="1270.2" cy="12.0" rx="2.0" ry="1.6" transform="rotate(57 1270.2 12.0)" fill="#8a3a1a"/><ellipse cx="1214.3" cy="30.3" rx="3.1" ry="1.6" transform="rotate(13 1214.3 30.3)" fill="#d8782e"/><ellipse cx="1265.0" cy="28.9" rx="3.1" ry="1.6" transform="rotate(167 1265.0 28.9)" fill="#e3a54a"/><ellipse cx="1211.3" cy="30.8" rx="2.3" ry="1.6" transform="rotate(151 1211.3 30.8)" fill="#8a3a1a"/><ellipse cx="1269.7" cy="32.1" rx="2.3" ry="1.6" transform="rotate(29 1269.7 32.1)" fill="#8a3a1a"/><ellipse cx="1219.7" cy="7.2" rx="3.2" ry="1.7" transform="rotate(84 1219.7 7.2)" fill="#d8782e"/><ellipse cx="1260.4" cy="7.0" rx="3.2" ry="1.7" transform="rotate(96 1260.4 7.0)" fill="#e3a54a"/><ellipse cx="1216.2" cy="4.7" rx="2.3" ry="1.9" transform="rotate(133 1216.2 4.7)" fill="#c55a26"/><ellipse cx="1263.6" cy="3.8" rx="2.3" ry="1.9" transform="rotate(47 1263.6 3.8)" fill="#b43a22"/><ellipse cx="1202.7" cy="30.7" rx="3.3" ry="2.1" transform="rotate(155 1202.7 30.7)" fill="#c55a26"/><ellipse cx="1277.5" cy="30.4" rx="3.3" ry="2.1" transform="rotate(25 1277.5 30.4)" fill="#e3a54a"/><ellipse cx="1217.7" cy="30.2" rx="2.4" ry="2.3" transform="rotate(134 1217.7 30.2)" fill="#c55a26"/><ellipse cx="1262.8" cy="31.2" rx="2.4" ry="2.3" transform="rotate(46 1262.8 31.2)" fill="#d8782e"/><ellipse cx="1218.2" cy="50.6" rx="3.2" ry="2.2" transform="rotate(73 1218.2 50.6)" fill="#4f8a30"/><ellipse cx="1262.3" cy="49.3" rx="3.2" ry="2.2" transform="rotate(107 1262.3 49.3)" fill="#d8782e"/><ellipse cx="1202.7" cy="28.4" rx="3.0" ry="2.0" transform="rotate(42 1202.7 28.4)" fill="#d8782e"/><ellipse cx="1278.2" cy="28.9" rx="3.0" ry="2.0" transform="rotate(138 1278.2 28.9)" fill="#d8782e"/><ellipse cx="1211.7" cy="38.3" rx="2.6" ry="2.4" transform="rotate(116 1211.7 38.3)" fill="#e3a54a"/><ellipse cx="1268.7" cy="39.1" rx="2.6" ry="2.4" transform="rotate(64 1268.7 39.1)" fill="#a0522a"/><ellipse cx="1214.8" cy="5.2" rx="2.4" ry="1.8" transform="rotate(9 1214.8 5.2)" fill="#4f8a30"/><ellipse cx="1264.6" cy="4.8" rx="2.4" ry="1.8" transform="rotate(171 1264.6 4.8)" fill="#8a3a1a"/><ellipse cx="1217.4" cy="17.0" rx="2.8" ry="2.4" transform="rotate(102 1217.4 17.0)" fill="#e3a54a"/><ellipse cx="1263.6" cy="17.5" rx="2.8" ry="2.4" transform="rotate(78 1263.6 17.5)" fill="#c55a26"/><ellipse cx="1214.1" cy="8.0" rx="2.1" ry="2.3" transform="rotate(29 1214.1 8.0)" fill="#c55a26"/><ellipse cx="1265.9" cy="7.0" rx="2.1" ry="2.3" transform="rotate(151 1265.9 7.0)" fill="#d8782e"/><ellipse cx="1203.6" cy="35.8" rx="2.7" ry="1.9" transform="rotate(108 1203.6 35.8)" fill="#a0522a"/><ellipse cx="1276.1" cy="35.1" rx="2.7" ry="1.9" transform="rotate(72 1276.1 35.1)" fill="#e3a54a"/><ellipse cx="1206.9" cy="33.2" rx="2.5" ry="1.4" transform="rotate(44 1206.9 33.2)" fill="#4f8a30"/><ellipse cx="1272.1" cy="32.1" rx="2.5" ry="1.4" transform="rotate(136 1272.1 32.1)" fill="#c55a26"/><ellipse cx="1216.6" cy="24.3" rx="2.1" ry="2.4" transform="rotate(170 1216.6 24.3)" fill="#c55a26"/><ellipse cx="1262.6" cy="25.5" rx="2.1" ry="2.4" transform="rotate(10 1262.6 25.5)" fill="#d8782e"/><ellipse cx="1217.6" cy="28.8" rx="2.8" ry="2.3" transform="rotate(130 1217.6 28.8)" fill="#b43a22"/><ellipse cx="1262.3" cy="30.3" rx="2.8" ry="2.3" transform="rotate(50 1262.3 30.3)" fill="#c55a26"/><ellipse cx="1204.4" cy="35.4" rx="2.7" ry="1.6" transform="rotate(9 1204.4 35.4)" fill="#e3a54a"/><ellipse cx="1275.6" cy="34.3" rx="2.7" ry="1.6" transform="rotate(171 1275.6 34.3)" fill="#d8782e"/><ellipse cx="1210.0" cy="38.7" rx="2.9" ry="1.8" transform="rotate(140 1210.0 38.7)" fill="#b43a22"/><ellipse cx="1270.1" cy="40.2" rx="2.9" ry="1.8" transform="rotate(40 1270.1 40.2)" fill="#a0522a"/><ellipse cx="1207.0" cy="42.2" rx="3.4" ry="2.2" transform="rotate(112 1207.0 42.2)" fill="#8a3a1a"/><ellipse cx="1272.7" cy="41.5" rx="3.4" ry="2.2" transform="rotate(68 1272.7 41.5)" fill="#4f8a30"/><ellipse cx="1211.7" cy="33.4" rx="3.2" ry="1.6" transform="rotate(45 1211.7 33.4)" fill="#e3a54a"/><ellipse cx="1269.2" cy="34.6" rx="3.2" ry="1.6" transform="rotate(135 1269.2 34.6)" fill="#c55a26"/><ellipse cx="1206.1" cy="6.1" rx="2.7" ry="2.0" transform="rotate(18 1206.1 6.1)" fill="#b43a22"/><ellipse cx="1274.0" cy="4.8" rx="2.7" ry="2.0" transform="rotate(162 1274.0 4.8)" fill="#8a3a1a"/><ellipse cx="1211.5" cy="39.2" rx="2.6" ry="1.9" transform="rotate(38 1211.5 39.2)" fill="#e3a54a"/><ellipse cx="1268.2" cy="39.9" rx="2.6" ry="1.9" transform="rotate(142 1268.2 39.9)" fill="#c55a26"/><ellipse cx="1206.7" cy="7.9" rx="3.0" ry="2.2" transform="rotate(38 1206.7 7.9)" fill="#c55a26"/><ellipse cx="1273.2" cy="7.1" rx="3.0" ry="2.2" transform="rotate(142 1273.2 7.1)" fill="#c55a26"/><ellipse cx="1212.9" cy="23.2" rx="2.5" ry="1.9" transform="rotate(134 1212.9 23.2)" fill="#a0522a"/><ellipse cx="1268.0" cy="23.0" rx="2.5" ry="1.9" transform="rotate(46 1268.0 23.0)" fill="#d8782e"/><ellipse cx="1218.2" cy="9.0" rx="2.1" ry="2.0" transform="rotate(87 1218.2 9.0)" fill="#8a3a1a"/><ellipse cx="1262.2" cy="8.4" rx="2.1" ry="2.0" transform="rotate(93 1262.2 8.4)" fill="#c55a26"/><ellipse cx="1208.1" cy="8.0" rx="2.1" ry="1.7" transform="rotate(130 1208.1 8.0)" fill="#e3a54a"/><ellipse cx="1272.3" cy="7.3" rx="2.1" ry="1.7" transform="rotate(50 1272.3 7.3)" fill="#8a3a1a"/><ellipse cx="1214.0" cy="22.6" rx="2.2" ry="2.1" transform="rotate(102 1214.0 22.6)" fill="#d8782e"/><ellipse cx="1266.8" cy="23.9" rx="2.2" ry="2.1" transform="rotate(78 1266.8 23.9)" fill="#a0522a"/><ellipse cx="1215.0" cy="26.8" rx="2.5" ry="1.8" transform="rotate(168 1215.0 26.8)" fill="#b43a22"/><ellipse cx="1265.8" cy="26.0" rx="2.5" ry="1.8" transform="rotate(12 1265.8 26.0)" fill="#d8782e"/><ellipse cx="1208.4" cy="23.0" rx="2.6" ry="1.6" transform="rotate(101 1208.4 23.0)" fill="#d8782e"/><ellipse cx="1272.2" cy="23.1" rx="2.6" ry="1.6" transform="rotate(79 1272.2 23.1)" fill="#c55a26"/><ellipse cx="1205.3" cy="33.3" rx="3.4" ry="1.7" transform="rotate(4 1205.3 33.3)" fill="#c55a26"/><ellipse cx="1274.7" cy="33.4" rx="3.4" ry="1.7" transform="rotate(176 1274.7 33.4)" fill="#e3a54a"/><ellipse cx="1215.3" cy="54.3" rx="2.1" ry="1.9" transform="rotate(142 1215.3 54.3)" fill="#c55a26"/><ellipse cx="1263.9" cy="53.0" rx="2.1" ry="1.9" transform="rotate(38 1263.9 53.0)" fill="#4f8a30"/><ellipse cx="1205.9" cy="50.8" rx="2.2" ry="2.1" transform="rotate(117 1205.9 50.8)" fill="#e3a54a"/><ellipse cx="1273.6" cy="49.9" rx="2.2" ry="2.1" transform="rotate(63 1273.6 49.9)" fill="#c55a26"/><ellipse cx="1214.4" cy="31.1" rx="2.5" ry="2.4" transform="rotate(121 1214.4 31.1)" fill="#d8782e"/><ellipse cx="1265.6" cy="31.2" rx="2.5" ry="2.4" transform="rotate(59 1265.6 31.2)" fill="#4f8a30"/><ellipse cx="1217.3" cy="40.8" rx="3.3" ry="2.1" transform="rotate(154 1217.3 40.8)" fill="#d8782e"/><ellipse cx="1263.3" cy="41.8" rx="3.3" ry="2.1" transform="rotate(26 1263.3 41.8)" fill="#c55a26"/><ellipse cx="1215.0" cy="53.8" rx="3.1" ry="2.2" transform="rotate(76 1215.0 53.8)" fill="#e3a54a"/><ellipse cx="1264.8" cy="52.7" rx="3.1" ry="2.2" transform="rotate(104 1264.8 52.7)" fill="#c55a26"/><ellipse cx="1211.2" cy="55.5" rx="2.3" ry="1.8" transform="rotate(53 1211.2 55.5)" fill="#b43a22"/><ellipse cx="1269.7" cy="54.2" rx="2.3" ry="1.8" transform="rotate(127 1269.7 54.2)" fill="#b43a22"/><ellipse cx="1214.5" cy="10.0" rx="2.3" ry="1.5" transform="rotate(83 1214.5 10.0)" fill="#c55a26"/><ellipse cx="1265.7" cy="11.2" rx="2.3" ry="1.5" transform="rotate(97 1265.7 11.2)" fill="#8a3a1a"/><ellipse cx="1207.4" cy="9.7" rx="2.4" ry="2.1" transform="rotate(107 1207.4 9.7)" fill="#b43a22"/><ellipse cx="1272.1" cy="8.7" rx="2.4" ry="2.1" transform="rotate(73 1272.1 8.7)" fill="#b43a22"/><ellipse cx="1215.7" cy="13.0" rx="2.9" ry="2.2" transform="rotate(86 1215.7 13.0)" fill="#b43a22"/><ellipse cx="1263.8" cy="14.1" rx="2.9" ry="2.2" transform="rotate(94 1263.8 14.1)" fill="#a0522a"/><ellipse cx="1211.3" cy="21.8" rx="2.8" ry="1.6" transform="rotate(9 1211.3 21.8)" fill="#a0522a"/><ellipse cx="1269.5" cy="22.7" rx="2.8" ry="1.6" transform="rotate(171 1269.5 22.7)" fill="#d8782e"/><ellipse cx="1210.5" cy="31.4" rx="3.6" ry="2.1" transform="rotate(43 1210.5 31.4)" fill="#b43a22"/><ellipse cx="1268.5" cy="31.4" rx="3.6" ry="2.1" transform="rotate(137 1268.5 31.4)" fill="#d8782e"/><ellipse cx="1214.8" cy="45.4" rx="2.3" ry="1.6" transform="rotate(58 1214.8 45.4)" fill="#e3a54a"/><ellipse cx="1264.8" cy="46.5" rx="2.3" ry="1.6" transform="rotate(122 1264.8 46.5)" fill="#d8782e"/><ellipse cx="1218.2" cy="37.1" rx="2.9" ry="1.6" transform="rotate(139 1218.2 37.1)" fill="#b43a22"/><ellipse cx="1260.8" cy="38.1" rx="2.9" ry="1.6" transform="rotate(41 1260.8 38.1)" fill="#c55a26"/><ellipse cx="1205.2" cy="46.7" rx="3.1" ry="1.5" transform="rotate(86 1205.2 46.7)" fill="#b43a22"/><ellipse cx="1274.8" cy="48.1" rx="3.1" ry="1.5" transform="rotate(94 1274.8 48.1)" fill="#e3a54a"/><ellipse cx="1208.9" cy="48.6" rx="2.7" ry="2.3" transform="rotate(16 1208.9 48.6)" fill="#c55a26"/><ellipse cx="1271.7" cy="47.7" rx="2.7" ry="2.3" transform="rotate(164 1271.7 47.7)" fill="#e3a54a"/><ellipse cx="1205.0" cy="31.3" rx="2.5" ry="1.7" transform="rotate(14 1205.0 31.3)" fill="#c55a26"/><ellipse cx="1274.7" cy="31.2" rx="2.5" ry="1.7" transform="rotate(166 1274.7 31.2)" fill="#4f8a30"/><ellipse cx="1213.4" cy="22.7" rx="2.6" ry="1.9" transform="rotate(174 1213.4 22.7)" fill="#8a3a1a"/><ellipse cx="1267.2" cy="23.2" rx="2.6" ry="1.9" transform="rotate(6 1267.2 23.2)" fill="#8a3a1a"/><ellipse cx="1213.7" cy="23.6" rx="2.9" ry="1.9" transform="rotate(2 1213.7 23.6)" fill="#b43a22"/><ellipse cx="1267.3" cy="24.5" rx="2.9" ry="1.9" transform="rotate(178 1267.3 24.5)" fill="#b43a22"/><ellipse cx="1207.2" cy="36.0" rx="2.9" ry="1.7" transform="rotate(61 1207.2 36.0)" fill="#d8782e"/><ellipse cx="1272.6" cy="36.5" rx="2.9" ry="1.7" transform="rotate(119 1272.6 36.5)" fill="#b43a22"/><ellipse cx="1215.1" cy="14.4" rx="3.5" ry="2.0" transform="rotate(130 1215.1 14.4)" fill="#d8782e"/><ellipse cx="1264.6" cy="15.4" rx="3.5" ry="2.0" transform="rotate(50 1264.6 15.4)" fill="#8a3a1a"/><ellipse cx="1205.7" cy="11.3" rx="3.1" ry="1.6" transform="rotate(72 1205.7 11.3)" fill="#4f8a30"/><ellipse cx="1275.0" cy="11.6" rx="3.1" ry="1.6" transform="rotate(108 1275.0 11.6)" fill="#8a3a1a"/><ellipse cx="1206.0" cy="15.8" rx="2.7" ry="1.5" transform="rotate(166 1206.0 15.8)" fill="#8a3a1a"/><ellipse cx="1273.9" cy="15.8" rx="2.7" ry="1.5" transform="rotate(14 1273.9 15.8)" fill="#e3a54a"/><ellipse cx="1216.2" cy="43.9" rx="2.5" ry="1.8" transform="rotate(3 1216.2 43.9)" fill="#d8782e"/><ellipse cx="1263.6" cy="44.5" rx="2.5" ry="1.8" transform="rotate(177 1263.6 44.5)" fill="#a0522a"/><ellipse cx="1213.9" cy="45.1" rx="2.0" ry="1.7" transform="rotate(62 1213.9 45.1)" fill="#e3a54a"/><ellipse cx="1266.4" cy="43.9" rx="2.0" ry="1.7" transform="rotate(118 1266.4 43.9)" fill="#d8782e"/><ellipse cx="1214.7" cy="30.5" rx="3.0" ry="1.6" transform="rotate(138 1214.7 30.5)" fill="#c55a26"/><ellipse cx="1266.1" cy="30.6" rx="3.0" ry="1.6" transform="rotate(42 1266.1 30.6)" fill="#d8782e"/><ellipse cx="1204.7" cy="30.0" rx="3.6" ry="1.9" transform="rotate(129 1204.7 30.0)" fill="#4f8a30"/><ellipse cx="1276.0" cy="29.1" rx="3.6" ry="1.9" transform="rotate(51 1276.0 29.1)" fill="#a0522a"/><ellipse cx="1205.8" cy="36.6" rx="2.4" ry="2.0" transform="rotate(125 1205.8 36.6)" fill="#8a3a1a"/><ellipse cx="1273.9" cy="37.9" rx="2.4" ry="2.0" transform="rotate(55 1273.9 37.9)" fill="#d8782e"/><ellipse cx="1204.4" cy="28.1" rx="2.2" ry="2.3" transform="rotate(98 1204.4 28.1)" fill="#a0522a"/><ellipse cx="1275.7" cy="28.3" rx="2.2" ry="2.3" transform="rotate(82 1275.7 28.3)" fill="#b43a22"/><ellipse cx="1220.0" cy="51.3" rx="3.0" ry="1.5" transform="rotate(148 1220.0 51.3)" fill="#c55a26"/><ellipse cx="1259.5" cy="52.5" rx="3.0" ry="1.5" transform="rotate(32 1259.5 52.5)" fill="#b43a22"/><ellipse cx="1215.5" cy="33.8" rx="2.9" ry="1.5" transform="rotate(6 1215.5 33.8)" fill="#b43a22"/><ellipse cx="1263.9" cy="35.3" rx="2.9" ry="1.5" transform="rotate(174 1263.9 35.3)" fill="#a0522a"/><ellipse cx="1207.6" cy="38.2" rx="3.2" ry="1.8" transform="rotate(107 1207.6 38.2)" fill="#e3a54a"/><ellipse cx="1273.0" cy="36.8" rx="3.2" ry="1.8" transform="rotate(73 1273.0 36.8)" fill="#b43a22"/><ellipse cx="1204.7" cy="28.3" rx="2.9" ry="1.6" transform="rotate(94 1204.7 28.3)" fill="#d8782e"/><ellipse cx="1274.8" cy="28.5" rx="2.9" ry="1.6" transform="rotate(86 1274.8 28.5)" fill="#d8782e"/><ellipse cx="1203.4" cy="37.4" rx="2.2" ry="2.4" transform="rotate(108 1203.4 37.4)" fill="#e3a54a"/><ellipse cx="1276.6" cy="37.1" rx="2.2" ry="2.4" transform="rotate(72 1276.6 37.1)" fill="#e3a54a"/><ellipse cx="1214.8" cy="39.8" rx="2.8" ry="2.4" transform="rotate(151 1214.8 39.8)" fill="#c55a26"/><ellipse cx="1265.9" cy="39.6" rx="2.8" ry="2.4" transform="rotate(29 1265.9 39.6)" fill="#d8782e"/><ellipse cx="1216.6" cy="33.4" rx="2.8" ry="1.8" transform="rotate(163 1216.6 33.4)" fill="#e3a54a"/><ellipse cx="1263.0" cy="32.1" rx="2.8" ry="1.8" transform="rotate(17 1263.0 32.1)" fill="#4f8a30"/><ellipse cx="1215.9" cy="50.8" rx="3.2" ry="1.7" transform="rotate(107 1215.9 50.8)" fill="#e3a54a"/><ellipse cx="1263.2" cy="49.7" rx="3.2" ry="1.7" transform="rotate(73 1263.2 49.7)" fill="#d8782e"/><ellipse cx="1208.6" cy="30.1" rx="3.1" ry="1.9" transform="rotate(43 1208.6 30.1)" fill="#8a3a1a"/><ellipse cx="1271.0" cy="29.8" rx="3.1" ry="1.9" transform="rotate(137 1271.0 29.8)" fill="#b43a22"/><ellipse cx="1219.0" cy="7.6" rx="3.1" ry="2.3" transform="rotate(76 1219.0 7.6)" fill="#a0522a"/><ellipse cx="1261.6" cy="6.7" rx="3.1" ry="2.3" transform="rotate(104 1261.6 6.7)" fill="#c55a26"/><ellipse cx="1216.6" cy="33.5" rx="3.3" ry="1.5" transform="rotate(97 1216.6 33.5)" fill="#8a3a1a"/><ellipse cx="1264.3" cy="32.0" rx="3.3" ry="1.5" transform="rotate(83 1264.3 32.0)" fill="#b43a22"/><ellipse cx="1208.1" cy="19.6" rx="3.4" ry="2.2" transform="rotate(72 1208.1 19.6)" fill="#8a3a1a"/><ellipse cx="1271.6" cy="19.8" rx="3.4" ry="2.2" transform="rotate(108 1271.6 19.8)" fill="#8a3a1a"/><ellipse cx="1219.1" cy="5.6" rx="2.8" ry="2.3" transform="rotate(176 1219.1 5.6)" fill="#b43a22"/><ellipse cx="1260.8" cy="4.7" rx="2.8" ry="2.3" transform="rotate(4 1260.8 4.7)" fill="#b43a22"/><ellipse cx="1218.7" cy="52.0" rx="3.3" ry="1.8" transform="rotate(85 1218.7 52.0)" fill="#b43a22"/><ellipse cx="1260.7" cy="53.1" rx="3.3" ry="1.8" transform="rotate(95 1260.7 53.1)" fill="#a0522a"/><ellipse cx="1213.5" cy="14.5" rx="3.4" ry="1.5" transform="rotate(19 1213.5 14.5)" fill="#b43a22"/><ellipse cx="1266.9" cy="13.9" rx="3.4" ry="1.5" transform="rotate(161 1266.9 13.9)" fill="#a0522a"/><ellipse cx="1215.4" cy="49.2" rx="3.1" ry="2.3" transform="rotate(80 1215.4 49.2)" fill="#8a3a1a"/><ellipse cx="1263.8" cy="48.4" rx="3.1" ry="2.3" transform="rotate(100 1263.8 48.4)" fill="#b43a22"/><ellipse cx="1206.2" cy="40.9" rx="2.4" ry="2.1" transform="rotate(142 1206.2 40.9)" fill="#b43a22"/><ellipse cx="1273.6" cy="41.4" rx="2.4" ry="2.1" transform="rotate(38 1273.6 41.4)" fill="#c55a26"/><ellipse cx="1206.2" cy="34.7" rx="3.5" ry="2.1" transform="rotate(50 1206.2 34.7)" fill="#b43a22"/><ellipse cx="1274.1" cy="33.4" rx="3.5" ry="2.1" transform="rotate(130 1274.1 33.4)" fill="#a0522a"/><ellipse cx="1210.7" cy="26.9" rx="2.1" ry="2.0" transform="rotate(51 1210.7 26.9)" fill="#e3a54a"/><ellipse cx="1268.8" cy="27.8" rx="2.1" ry="2.0" transform="rotate(129 1268.8 27.8)" fill="#8a3a1a"/><ellipse cx="1214.9" cy="18.8" rx="2.4" ry="1.9" transform="rotate(34 1214.9 18.8)" fill="#b43a22"/><ellipse cx="1265.9" cy="20.3" rx="2.4" ry="1.9" transform="rotate(146 1265.9 20.3)" fill="#8a3a1a"/><ellipse cx="1214.2" cy="28.0" rx="3.5" ry="1.9" transform="rotate(32 1214.2 28.0)" fill="#d8782e"/><ellipse cx="1266.0" cy="28.4" rx="3.5" ry="1.9" transform="rotate(148 1266.0 28.4)" fill="#d8782e"/><ellipse cx="1215.0" cy="38.2" rx="2.8" ry="2.2" transform="rotate(123 1215.0 38.2)" fill="#d8782e"/><ellipse cx="1265.0" cy="39.6" rx="2.8" ry="2.2" transform="rotate(57 1265.0 39.6)" fill="#b43a22"/><ellipse cx="1206.1" cy="44.5" rx="2.4" ry="1.8" transform="rotate(139 1206.1 44.5)" fill="#e3a54a"/><ellipse cx="1274.4" cy="45.4" rx="2.4" ry="1.8" transform="rotate(41 1274.4 45.4)" fill="#b43a22"/><ellipse cx="1205.9" cy="29.4" rx="2.8" ry="1.4" transform="rotate(107 1205.9 29.4)" fill="#e3a54a"/><ellipse cx="1274.5" cy="29.7" rx="2.8" ry="1.4" transform="rotate(73 1274.5 29.7)" fill="#c55a26"/><ellipse cx="1206.2" cy="13.4" rx="2.8" ry="1.8" transform="rotate(80 1206.2 13.4)" fill="#8a3a1a"/><ellipse cx="1273.3" cy="14.3" rx="2.8" ry="1.8" transform="rotate(100 1273.3 14.3)" fill="#8a3a1a"/><ellipse cx="1213.5" cy="51.2" rx="3.3" ry="1.6" transform="rotate(26 1213.5 51.2)" fill="#e3a54a"/><ellipse cx="1266.2" cy="49.8" rx="3.3" ry="1.6" transform="rotate(154 1266.2 49.8)" fill="#d8782e"/><ellipse cx="1210.9" cy="36.3" rx="2.9" ry="1.5" transform="rotate(148 1210.9 36.3)" fill="#b43a22"/><ellipse cx="1268.5" cy="35.6" rx="2.9" ry="1.5" transform="rotate(32 1268.5 35.6)" fill="#b43a22"/><ellipse cx="1215.9" cy="39.9" rx="2.1" ry="1.8" transform="rotate(66 1215.9 39.9)" fill="#c55a26"/><ellipse cx="1263.5" cy="41.3" rx="2.1" ry="1.8" transform="rotate(114 1263.5 41.3)" fill="#8a3a1a"/><ellipse cx="1214.3" cy="29.5" rx="2.2" ry="1.9" transform="rotate(134 1214.3 29.5)" fill="#a0522a"/><ellipse cx="1264.8" cy="28.7" rx="2.2" ry="1.9" transform="rotate(46 1264.8 28.7)" fill="#c55a26"/><ellipse cx="1210.3" cy="11.4" rx="2.7" ry="1.5" transform="rotate(6 1210.3 11.4)" fill="#b43a22"/><ellipse cx="1270.7" cy="12.2" rx="2.7" ry="1.5" transform="rotate(174 1270.7 12.2)" fill="#4f8a30"/><ellipse cx="1207.4" cy="16.0" rx="2.4" ry="1.9" transform="rotate(168 1207.4 16.0)" fill="#e3a54a"/><ellipse cx="1272.3" cy="15.5" rx="2.4" ry="1.9" transform="rotate(12 1272.3 15.5)" fill="#a0522a"/><ellipse cx="1203.3" cy="35.8" rx="3.0" ry="1.5" transform="rotate(62 1203.3 35.8)" fill="#d8782e"/><ellipse cx="1277.1" cy="36.9" rx="3.0" ry="1.5" transform="rotate(118 1277.1 36.9)" fill="#e3a54a"/><ellipse cx="1211.6" cy="50.1" rx="3.3" ry="1.8" transform="rotate(141 1211.6 50.1)" fill="#d8782e"/><ellipse cx="1267.8" cy="49.6" rx="3.3" ry="1.8" transform="rotate(39 1267.8 49.6)" fill="#b43a22"/><ellipse cx="1205.1" cy="32.6" rx="2.3" ry="1.9" transform="rotate(56 1205.1 32.6)" fill="#b43a22"/><ellipse cx="1274.8" cy="34.1" rx="2.3" ry="1.9" transform="rotate(124 1274.8 34.1)" fill="#4f8a30"/><ellipse cx="1261.0" cy="55.6" rx="2.5" ry="1.5" transform="rotate(124 1261.0 55.6)" fill="#d8782e"/><ellipse cx="1226.9" cy="51.3" rx="2.3" ry="1.6" transform="rotate(71 1226.9 51.3)" fill="#a0522a"/><ellipse cx="1252.5" cy="55.2" rx="2.5" ry="1.5" transform="rotate(169 1252.5 55.2)" fill="#d8782e"/><ellipse cx="1255.4" cy="62.9" rx="3.3" ry="1.4" transform="rotate(58 1255.4 62.9)" fill="#d8782e"/><ellipse cx="1215.8" cy="67.1" rx="2.5" ry="2.0" transform="rotate(93 1215.8 67.1)" fill="#8a3a1a"/><ellipse cx="1233.9" cy="54.0" rx="2.1" ry="1.5" transform="rotate(107 1233.9 54.0)" fill="#8a3a1a"/><ellipse cx="1229.1" cy="57.5" rx="2.8" ry="1.5" transform="rotate(127 1229.1 57.5)" fill="#b43a22"/><ellipse cx="1253.1" cy="61.6" rx="2.2" ry="1.6" transform="rotate(50 1253.1 61.6)" fill="#4f8a30"/><ellipse cx="1234.5" cy="56.4" rx="3.2" ry="1.6" transform="rotate(53 1234.5 56.4)" fill="#d8782e"/><ellipse cx="1223.5" cy="52.1" rx="2.0" ry="1.9" transform="rotate(102 1223.5 52.1)" fill="#c55a26"/><ellipse cx="1267.6" cy="58.5" rx="2.9" ry="2.1" transform="rotate(39 1267.6 58.5)" fill="#4f8a30"/><ellipse cx="1249.7" cy="65.8" rx="3.2" ry="1.6" transform="rotate(114 1249.7 65.8)" fill="#8a3a1a"/><ellipse cx="1235.8" cy="56.4" rx="2.1" ry="1.7" transform="rotate(59 1235.8 56.4)" fill="#d8782e"/><ellipse cx="1227.2" cy="53.5" rx="2.6" ry="1.8" transform="rotate(30 1227.2 53.5)" fill="#e3a54a"/><ellipse cx="1224.9" cy="52.8" rx="2.5" ry="1.7" transform="rotate(27 1224.9 52.8)" fill="#e3a54a"/><ellipse cx="1251.7" cy="59.6" rx="3.0" ry="1.4" transform="rotate(70 1251.7 59.6)" fill="#d8782e"/><ellipse cx="1214.7" cy="59.7" rx="2.1" ry="1.8" transform="rotate(105 1214.7 59.7)" fill="#d8782e"/><ellipse cx="1229.9" cy="54.6" rx="2.0" ry="1.7" transform="rotate(161 1229.9 54.6)" fill="#e3a54a"/><ellipse cx="1226.2" cy="61.8" rx="2.3" ry="1.8" transform="rotate(111 1226.2 61.8)" fill="#a0522a"/><ellipse cx="1232.0" cy="59.6" rx="3.3" ry="2.0" transform="rotate(113 1232.0 59.6)" fill="#e3a54a"/><ellipse cx="1234.8" cy="56.8" rx="2.4" ry="2.1" transform="rotate(158 1234.8 56.8)" fill="#d8782e"/><ellipse cx="1263.8" cy="53.5" rx="2.2" ry="1.8" transform="rotate(56 1263.8 53.5)" fill="#d8782e"/><ellipse cx="1267.7" cy="56.1" rx="2.3" ry="1.6" transform="rotate(122 1267.7 56.1)" fill="#b43a22"/><ellipse cx="1211.1" cy="62.7" rx="2.6" ry="1.6" transform="rotate(89 1211.1 62.7)" fill="#e3a54a"/><ellipse cx="1242.8" cy="60.0" rx="2.8" ry="2.1" transform="rotate(174 1242.8 60.0)" fill="#d8782e"/><ellipse cx="1231.1" cy="64.6" rx="2.4" ry="2.0" transform="rotate(125 1231.1 64.6)" fill="#4f8a30"/><ellipse cx="1266.9" cy="66.7" rx="2.2" ry="1.9" transform="rotate(88 1266.9 66.7)" fill="#e3a54a"/><ellipse cx="1232.4" cy="54.9" rx="3.0" ry="1.8" transform="rotate(43 1232.4 54.9)" fill="#b43a22"/><ellipse cx="1229.8" cy="53.4" rx="2.7" ry="1.5" transform="rotate(11 1229.8 53.4)" fill="#8a3a1a"/><ellipse cx="1216.9" cy="64.0" rx="2.2" ry="1.8" transform="rotate(139 1216.9 64.0)" fill="#d8782e"/><ellipse cx="1220.4" cy="65.9" rx="3.2" ry="1.4" transform="rotate(46 1220.4 65.9)" fill="#d8782e"/><ellipse cx="1257.2" cy="57.9" rx="3.0" ry="1.6" transform="rotate(129 1257.2 57.9)" fill="#d8782e"/><ellipse cx="1230.4" cy="62.7" rx="3.2" ry="2.1" transform="rotate(102 1230.4 62.7)" fill="#d8782e"/><ellipse cx="1252.0" cy="60.8" rx="3.2" ry="2.0" transform="rotate(23 1252.0 60.8)" fill="#d8782e"/><ellipse cx="1249.8" cy="54.2" rx="2.3" ry="1.4" transform="rotate(105 1249.8 54.2)" fill="#a0522a"/><ellipse cx="1267.3" cy="55.8" rx="3.0" ry="1.7" transform="rotate(114 1267.3 55.8)" fill="#d8782e"/><ellipse cx="1265.1" cy="69.0" rx="2.1" ry="2.0" transform="rotate(21 1265.1 69.0)" fill="#8a3a1a"/><ellipse cx="1227.6" cy="62.6" rx="3.4" ry="1.5" transform="rotate(59 1227.6 62.6)" fill="#8a3a1a"/><ellipse cx="1242.5" cy="57.8" rx="2.5" ry="1.6" transform="rotate(144 1242.5 57.8)" fill="#c55a26"/><ellipse cx="1227.5" cy="57.2" rx="2.9" ry="2.0" transform="rotate(177 1227.5 57.2)" fill="#d8782e"/><ellipse cx="1251.3" cy="59.5" rx="3.1" ry="1.5" transform="rotate(32 1251.3 59.5)" fill="#8a3a1a"/><ellipse cx="1265.1" cy="57.2" rx="2.7" ry="1.5" transform="rotate(58 1265.1 57.2)" fill="#8a3a1a"/><ellipse cx="1243.8" cy="52.4" rx="2.9" ry="1.6" transform="rotate(41 1243.8 52.4)" fill="#d8782e"/><ellipse cx="1232.2" cy="54.5" rx="2.1" ry="1.5" transform="rotate(161 1232.2 54.5)" fill="#b43a22"/><ellipse cx="1215.5" cy="55.9" rx="2.7" ry="2.2" transform="rotate(36 1215.5 55.9)" fill="#c55a26"/><ellipse cx="1239.1" cy="56.6" rx="3.1" ry="1.7" transform="rotate(10 1239.1 56.6)" fill="#e3a54a"/><ellipse cx="1249.1" cy="60.4" rx="2.4" ry="2.2" transform="rotate(156 1249.1 60.4)" fill="#a0522a"/><ellipse cx="1236.7" cy="63.4" rx="3.0" ry="1.5" transform="rotate(5 1236.7 63.4)" fill="#b43a22"/><ellipse cx="1217.9" cy="53.7" rx="2.5" ry="2.0" transform="rotate(56 1217.9 53.7)" fill="#d8782e"/><ellipse cx="1211.6" cy="57.2" rx="3.3" ry="1.4" transform="rotate(95 1211.6 57.2)" fill="#c55a26"/><ellipse cx="1257.0" cy="63.3" rx="2.6" ry="2.0" transform="rotate(149 1257.0 63.3)" fill="#c55a26"/><ellipse cx="1268.2" cy="55.4" rx="3.3" ry="1.7" transform="rotate(127 1268.2 55.4)" fill="#b43a22"/><ellipse cx="1263.8" cy="53.3" rx="2.8" ry="1.6" transform="rotate(70 1263.8 53.3)" fill="#d8782e"/><ellipse cx="1249.1" cy="63.4" rx="2.5" ry="1.9" transform="rotate(64 1249.1 63.4)" fill="#b43a22"/><ellipse cx="1263.5" cy="58.0" rx="2.1" ry="1.7" transform="rotate(133 1263.5 58.0)" fill="#b43a22"/><ellipse cx="1254.1" cy="59.9" rx="3.0" ry="1.5" transform="rotate(19 1254.1 59.9)" fill="#8a3a1a"/><ellipse cx="1231.3" cy="57.3" rx="2.0" ry="1.8" transform="rotate(73 1231.3 57.3)" fill="#d8782e"/><ellipse cx="1242.2" cy="65.3" rx="2.3" ry="2.1" transform="rotate(58 1242.2 65.3)" fill="#c55a26"/><ellipse cx="1217.3" cy="68.5" rx="2.6" ry="2.2" transform="rotate(40 1217.3 68.5)" fill="#d8782e"/><ellipse cx="1252.0" cy="53.7" rx="2.4" ry="1.9" transform="rotate(171 1252.0 53.7)" fill="#d8782e"/><ellipse cx="1221.6" cy="57.5" rx="3.4" ry="1.5" transform="rotate(114 1221.6 57.5)" fill="#d8782e"/><ellipse cx="1248.3" cy="53.8" rx="2.9" ry="2.1" transform="rotate(154 1248.3 53.8)" fill="#e3a54a"/><ellipse cx="1240.3" cy="59.1" rx="2.2" ry="2.1" transform="rotate(124 1240.3 59.1)" fill="#d8782e"/><ellipse cx="1249.6" cy="57.2" rx="2.5" ry="1.6" transform="rotate(108 1249.6 57.2)" fill="#e3a54a"/><ellipse cx="1240.9" cy="50.5" rx="2.9" ry="1.8" transform="rotate(107 1240.9 50.5)" fill="#e3a54a"/><ellipse cx="1265.0" cy="55.6" rx="2.7" ry="2.2" transform="rotate(133 1265.0 55.6)" fill="#d8782e"/><ellipse cx="1253.7" cy="66.9" rx="2.6" ry="2.1" transform="rotate(23 1253.7 66.9)" fill="#a0522a"/><ellipse cx="1239.5" cy="53.7" rx="3.2" ry="1.9" transform="rotate(169 1239.5 53.7)" fill="#c55a26"/><ellipse cx="1257.3" cy="59.8" rx="3.4" ry="1.5" transform="rotate(157 1257.3 59.8)" fill="#4f8a30"/><ellipse cx="1225.5" cy="64.1" rx="2.6" ry="1.8" transform="rotate(156 1225.5 64.1)" fill="#b43a22"/><ellipse cx="1227.2" cy="61.2" rx="2.1" ry="1.8" transform="rotate(142 1227.2 61.2)" fill="#d8782e"/><ellipse cx="1225.0" cy="64.0" rx="3.2" ry="2.0" transform="rotate(99 1225.0 64.0)" fill="#a0522a"/><ellipse cx="1257.2" cy="54.0" rx="2.5" ry="1.5" transform="rotate(7 1257.2 54.0)" fill="#d8782e"/><ellipse cx="1261.2" cy="65.7" rx="2.2" ry="1.5" transform="rotate(70 1261.2 65.7)" fill="#c55a26"/><ellipse cx="1246.8" cy="64.7" rx="2.1" ry="2.2" transform="rotate(37 1246.8 64.7)" fill="#e3a54a"/><ellipse cx="1261.8" cy="64.1" rx="2.3" ry="1.9" transform="rotate(78 1261.8 64.1)" fill="#8a3a1a"/><ellipse cx="1230.7" cy="55.5" rx="2.9" ry="1.6" transform="rotate(109 1230.7 55.5)" fill="#4f8a30"/><ellipse cx="1221.5" cy="53.9" rx="3.0" ry="1.8" transform="rotate(23 1221.5 53.9)" fill="#8a3a1a"/><ellipse cx="1265.6" cy="63.0" rx="2.5" ry="1.6" transform="rotate(179 1265.6 63.0)" fill="#4f8a30"/><ellipse cx="1253.7" cy="56.8" rx="2.4" ry="1.7" transform="rotate(26 1253.7 56.8)" fill="#e3a54a"/><path d="M1205,20 L1224,29 M1204,37 L1224,46 M1275,20 L1256,29 M1276,37 L1256,46" stroke="#f6f6f0" stroke-width="2"/><path d="M1205,23 L1224,32 M1204,40 L1224,49 M1275,23 L1256,32 M1276,40 L1256,49" stroke="#3f8a36" stroke-width="1"/><path d="M1214,57 L1240,66 L1266,57" stroke="#3a8a36" stroke-width="2" fill="none"/><path d="M1216,55 L1240,63 L1264,55" stroke="#f4f4ee" stroke-width="1.4" fill="none"/><path d="M1240,55 L1240,68" stroke="#f0f0ea" stroke-width="3"/><path d="M1222,15 L1258,15 L1258,53 C1258,55 1256,57 1253,57 L1244,57 L1240,59 L1236,57 L1227,57 C1224,57 1222,55 1222,53 Z" fill="#f3f5ef"/><path d="M1224,17 L1256,17 L1256,52 C1256,54 1255,55 1252,55 L1244,55 L1240,57 L1236,55 L1228,55 C1225,55 1224,54 1224,52 Z" fill="#1ea52c"/><path d="M1228,36 L1231,33 L1234,32 L1232,29 L1233,25 L1236,24 L1238,26 L1237,29 C1240,31 1244,31 1248,31 C1251,31 1253,33 1253,36 L1251,40 L1249,43 L1249,51 L1247.5,51 L1247,43 L1244,41 L1243,51 L1241.5,51 L1241,40 C1238,39 1235,38 1233,37 L1230,39 Z" fill="#ffffff"/><path d="M1253,34 C1256,34 1256,38 1254,42" stroke="#ffffff" stroke-width="1.3" fill="none"/><path d="M1232,17 L1231,10 C1234,7 1237,10 1240,6 C1243,10 1246,7 1249,10 L1248,17 Z" fill="#5e4c28"/><rect x="1232" y="14" width="16" height="3" fill="#7a6232"/><circle cx="1240" cy="4.8" r="1.4" fill="#5e4c28"/><text x="11" y="33.6" font-size="27.5" textLength="1069" lengthAdjust="spacingAndGlyphs" fill="#4866a0" stroke="#4866a0" stroke-width="0.9">РЕАЛИЗАЦИЯ КЛАСТЕРНОЙ ПОЛИТИКИ В СИСТЕМЕ ПРОФЕССИОНАЛЬНОГО</text>
<text x="11" y="66.8" font-size="27.5" textLength="502" lengthAdjust="spacingAndGlyphs" fill="#4866a0" stroke="#4866a0" stroke-width="0.9">ОБРАЗОВАНИЯ ТОМСКОЙ ОБЛАСТИ</text>
<text x="11" y="112.3" font-size="21.5" textLength="515" lengthAdjust="spacingAndGlyphs" fill="#eda21f" stroke="#eda21f" stroke-width="0.7">ОБРАЗОВАТЕЛЬНО - ОТРАСЛЕВЫЕ КЛАСТЕРЫ</text>
<text x="905.5" y="133.6" font-size="19" textLength="292" lengthAdjust="spacingAndGlyphs" fill="#1c1c1c" stroke="#1c1c1c" stroke-width="0.45">Лесопромышленный кластер</text>
<text x="905.5" y="182" font-size="19" textLength="290.5" lengthAdjust="spacingAndGlyphs" fill="#1c1c1c" stroke="#1c1c1c" stroke-width="0.45">Агропромышленный кластер</text>
<text x="905.5" y="230" font-size="19" textLength="348" lengthAdjust="spacingAndGlyphs" fill="#1c1c1c" stroke="#1c1c1c" stroke-width="0.45">Промышленный кластер и кластер</text>
<text x="905.5" y="262.7" font-size="19" textLength="141.5" lengthAdjust="spacingAndGlyphs" fill="#1c1c1c" stroke="#1c1c1c" stroke-width="0.45">строительства</text>
<text x="905.5" y="311.2" font-size="19" textLength="197" lengthAdjust="spacingAndGlyphs" fill="#1c1c1c" stroke="#1c1c1c" stroke-width="0.45">Кластер транспорта</text>
<text x="905.5" y="359.4" font-size="19" textLength="211.5" lengthAdjust="spacingAndGlyphs" fill="#1c1c1c" stroke="#1c1c1c" stroke-width="0.45">Кластер сферы услуг</text>
<text x="905.5" y="408.2" font-size="19" textLength="265" lengthAdjust="spacingAndGlyphs" fill="#1c1c1c" stroke="#1c1c1c" stroke-width="0.45">Кластер информационных</text>
<text x="905.5" y="441" font-size="19" textLength="114" lengthAdjust="spacingAndGlyphs" fill="#1c1c1c" stroke="#1c1c1c" stroke-width="0.45">технологий</text>
<text x="905.5" y="488.7" font-size="19" textLength="212.5" lengthAdjust="spacingAndGlyphs" fill="#1c1c1c" stroke="#1c1c1c" stroke-width="0.45">Кластер образования</text>
<text x="905.5" y="536.7" font-size="19" textLength="260.5" lengthAdjust="spacingAndGlyphs" fill="#1c1c1c" stroke="#1c1c1c" stroke-width="0.45">Кластер здравоохранения</text>
<line x1="30" y1="583.5" x2="1230" y2="587.5" stroke="#5b6f9c" stroke-width="2"/>
<text x="11.5" y="627.5" font-size="38" textLength="67" lengthAdjust="spacing" fill="#f2a01c" stroke="#f2a01c" stroke-width="1.6">131</text>
<text x="90" y="627.5" font-size="25" textLength="159" lengthAdjust="spacingAndGlyphs" fill="#222222" stroke="#222" stroke-width="0.8">ПРОГРАММА</text>
<text x="268.6" y="628" font-size="38" textLength="45" lengthAdjust="spacing" fill="#f2a01c" stroke="#f2a01c" stroke-width="1.6">89</text>
<text x="324.3" y="628" font-size="25" textLength="142" lengthAdjust="spacingAndGlyphs" fill="#222222" stroke="#222" stroke-width="0.8">ПРОГРАММ</text>
<text x="490.8" y="628.3" font-size="38" textLength="45" lengthAdjust="spacing" fill="#f2a01c" stroke="#f2a01c" stroke-width="1.6">61</text>
<text x="546.5" y="628" font-size="25" textLength="159.5" lengthAdjust="spacingAndGlyphs" fill="#222222" stroke="#222" stroke-width="0.8">ПРОГРАММА</text>
<text x="731.2" y="628.5" font-size="38" textLength="44.7" lengthAdjust="spacing" fill="#f2a01c" stroke="#f2a01c" stroke-width="1.6">24</text>
<text x="786" y="628.5" font-size="25" textLength="164.5" lengthAdjust="spacingAndGlyphs" fill="#222222" stroke="#222" stroke-width="0.8">ПРОГРАММЫ</text>
<text x="984.5" y="628.4" font-size="38" textLength="69" lengthAdjust="spacing" fill="#f2a01c" stroke="#f2a01c" stroke-width="1.6">214</text>
<text x="1064.5" y="628" font-size="25" textLength="195" lengthAdjust="spacingAndGlyphs" fill="#222222" stroke="#222" stroke-width="0.8">КОМПЕТЕНЦИЙ</text>
<text x="14.7" y="658" font-size="15.5" textLength="106.8" lengthAdjust="spacingAndGlyphs" fill="#1a1a1a" stroke="#1a1a1a" stroke-width="0.55">ПОДГОТОВКИ</text>
<text x="14.7" y="675.8" font-size="15.5" textLength="190.6" lengthAdjust="spacingAndGlyphs" fill="#1a1a1a" stroke="#1a1a1a" stroke-width="0.55">КВАЛИФИЦИРОВАННЫХ</text>
<text x="14.7" y="693.6" font-size="15.5" textLength="73.3" lengthAdjust="spacingAndGlyphs" fill="#1a1a1a" stroke="#1a1a1a" stroke-width="0.55">РАБОЧИХ</text>
<text x="272.5" y="658.2" font-size="15.5" textLength="106.6" lengthAdjust="spacingAndGlyphs" fill="#1a1a1a" stroke="#1a1a1a" stroke-width="0.55">ПОДГОТОВКИ</text>
<text x="272.5" y="676.8" font-size="15.5" textLength="127.1" lengthAdjust="spacingAndGlyphs" fill="#1a1a1a" stroke="#1a1a1a" stroke-width="0.55">СПЕЦИАЛИСТОВ</text>
<text x="272.5" y="694.4" font-size="15.5" textLength="135" lengthAdjust="spacingAndGlyphs" fill="#1a1a1a" stroke="#1a1a1a" stroke-width="0.55">СРЕДНЕГО ЗВЕНА</text>
<text x="494.7" y="661.2" font-size="15.5" textLength="201.5" lengthAdjust="spacingAndGlyphs" fill="#1a1a1a" stroke="#1a1a1a" stroke-width="0.55">ИЗ ПЕРЕЧНЯ ТОП-РЕГИОН</text>
<text x="732.2" y="661.7" font-size="15.5" textLength="158.4" lengthAdjust="spacingAndGlyphs" fill="#1a1a1a" stroke="#1a1a1a" stroke-width="0.55">ИЗ ПЕРЕЧНЯ ТОП-50</text>
<text x="983.3" y="658.7" font-size="15.5" textLength="298" lengthAdjust="spacingAndGlyphs" fill="#1a1a1a" stroke="#1a1a1a" stroke-width="0.55">ОПЕРЕЖАЮЩЕЙ ПРОФЕССИОНАЛЬНОЙ</text>
<text x="983.3" y="676.4" font-size="15.5" textLength="267.7" lengthAdjust="spacingAndGlyphs" fill="#1a1a1a" stroke="#1a1a1a" stroke-width="0.55">ПОДГОТОВКИ, СООТВЕТСТВУЮЩИХ</text>
<text x="983.3" y="693.3" font-size="15.5" textLength="193.7" lengthAdjust="spacingAndGlyphs" fill="#1a1a1a" stroke="#1a1a1a" stroke-width="0.55">ПРИОРИТЕТАМ РАЗВИТИЯ</text>
<text x="983.3" y="709.6" font-size="15.5" textLength="169.5" lengthAdjust="spacingAndGlyphs" fill="#1a1a1a" stroke="#1a1a1a" stroke-width="0.55">ЭКОНОМИКИ РЕГИОНА</text>

</svg>
</body></html>
